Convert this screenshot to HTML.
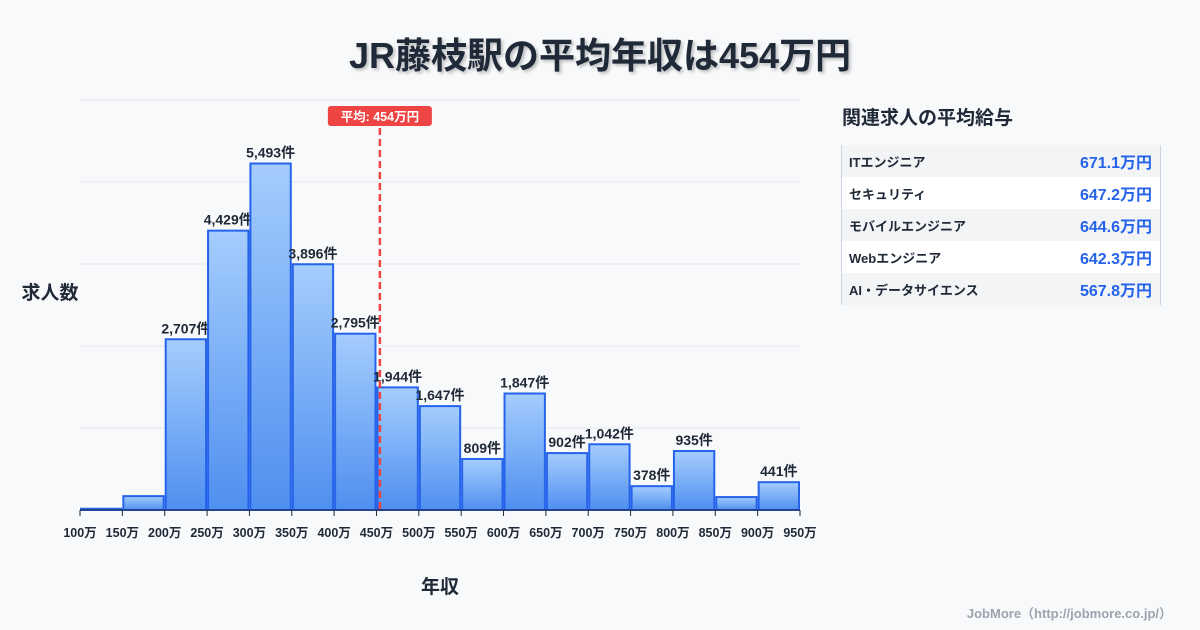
<!DOCTYPE html>
<html><head><meta charset="utf-8">
<style>
body{margin:0;width:1200px;height:630px;background:#f8f9fb;font-family:"Liberation Sans","Noto Sans CJK JP",sans-serif;overflow:hidden;position:relative}
#title{position:absolute;top:27px;left:0;width:1200px;text-align:center;font-size:36px;font-weight:bold;color:#1f2937;text-shadow:2px 2px 3px rgba(0,0,0,.25)}
#side-title{position:absolute;left:842px;top:103px;font-size:19px;font-weight:bold;color:#1f2937}
#tbl{position:absolute;left:841px;top:145px;width:318px;border-left:1px solid #cbd5e1;border-right:1px solid #cbd5e1}
.row{height:32px;display:flex;justify-content:space-between;align-items:center;padding:0 8px 0 7px;font-size:13px;font-weight:bold;color:#1f2937}
.row:nth-child(odd){background:#f3f4f6}.row:nth-child(even){background:#fff}
.row span:last-child{color:#2563eb;font-size:16px}
#credit{position:absolute;right:28px;top:603px;font-size:13px;color:#9ca3af;font-weight:bold}
</style></head><body>
<div id="title">JR藤枝駅の平均年収は454万円</div>
<svg id="chart" width="830" height="630" style="position:absolute;left:0;top:0"></svg>
<div id="side-title">関連求人の平均給与</div>
<div id="tbl">
<div class="row"><span>ITエンジニア</span><span>671.1万円</span></div>
<div class="row"><span>セキュリティ</span><span>647.2万円</span></div>
<div class="row"><span>モバイルエンジニア</span><span>644.6万円</span></div>
<div class="row"><span>Webエンジニア</span><span>642.3万円</span></div>
<div class="row"><span>AI・データサイエンス</span><span>567.8万円</span></div>
</div>
<div id="credit">JobMore（http://jobmore.co.jp/）</div>
<script>
const binStarts=[100,150,200,250,300,350,400,450,500,550,600,650,700,750,800,850,900];
const counts=[20,220,2707,4429,5493,3896,2795,1944,1647,809,1847,902,1042,378,935,205,441];
const showLabel=[false,false,true,true,true,true,true,true,true,true,true,true,true,true,true,false,true];
const tickLabels=[100,150,200,250,300,350,400,450,500,550,600,650,700,750,800,850,900,950];
const meanValue=454;
const yMax=6500, yStep=1300;
const X0=80,X1=800,Y0=510,Y1=100;
const xs=v=>X0+(v-100)/(950-100)*(X1-X0);
const ys=v=>Y0-v/yMax*(Y0-Y1);
const NS="http://www.w3.org/2000/svg";
const svg=document.getElementById('chart');
function mk(t,a){const e=document.createElementNS(NS,t);for(const k in a)e.setAttribute(k,a[k]);svg.appendChild(e);return e;}
const defs=mk('defs',{});
defs.innerHTML='<linearGradient id="g" x1="0" y1="0" x2="0" y2="1"><stop offset="0" stop-color="#a5cdfd"/><stop offset="1" stop-color="#4f8ff0"/></linearGradient>';
for(let v=0;v<=yMax;v+=yStep){const l=mk('line',{x1:X0,x2:X1,y1:ys(v),y2:ys(v),stroke:'#e5e7eb','stroke-width':1});
}
binStarts.forEach((b,i)=>{
 const x=xs(b),w=xs(b+50)-x,y=ys(counts[i]);
 const r=mk('rect',{x:x+1,y:y,width:w-2,height:Y0-y,fill:'url(#g)',stroke:'#2563eb','stroke-width':2});
 
 if(showLabel[i]){const t=mk('text',{x:x+w/2,y:y-6,'text-anchor':'middle','font-size':14,'font-weight':'bold',fill:'#1f2937'});
 t.textContent=counts[i].toLocaleString('en-US')+'件';}
});
const ax=mk('line',{x1:X0,x2:X1,y1:Y0,y2:Y0,stroke:'#1f2937','stroke-width':1});

tickLabels.forEach(v=>{
 const tk=mk('line',{x1:xs(v),x2:xs(v),y1:Y0,y2:Y0+6,stroke:'#1f2937'});
 
 const t=mk('text',{x:xs(v),y:Y0+27,'text-anchor':'middle','font-size':12.5,'font-weight':'bold',fill:'#1f2937'});
 t.textContent=v+'万';
});
const mx=xs(meanValue);
const ml=mk('line',{x1:mx,x2:mx,y1:128,y2:Y0,stroke:'#ef4444','stroke-width':2.5,'stroke-dasharray':'7,4'});

const mb=mk('rect',{x:mx-52,y:106,width:104,height:20,rx:3,fill:'#ef4444'});

const mt=mk('text',{x:mx,y:121,'text-anchor':'middle','font-size':12.5,'font-weight':'bold',fill:'#fff'});
mt.textContent='平均: '+meanValue+'万円';
const yt=mk('text',{x:50,y:299,'text-anchor':'middle','font-size':19,'font-weight':'bold',fill:'#1f2937'});
yt.textContent='求人数';
const xt=mk('text',{x:440,y:593,'text-anchor':'middle','font-size':19,'font-weight':'bold',fill:'#1f2937'});
xt.textContent='年収';
</script>
</body></html>
